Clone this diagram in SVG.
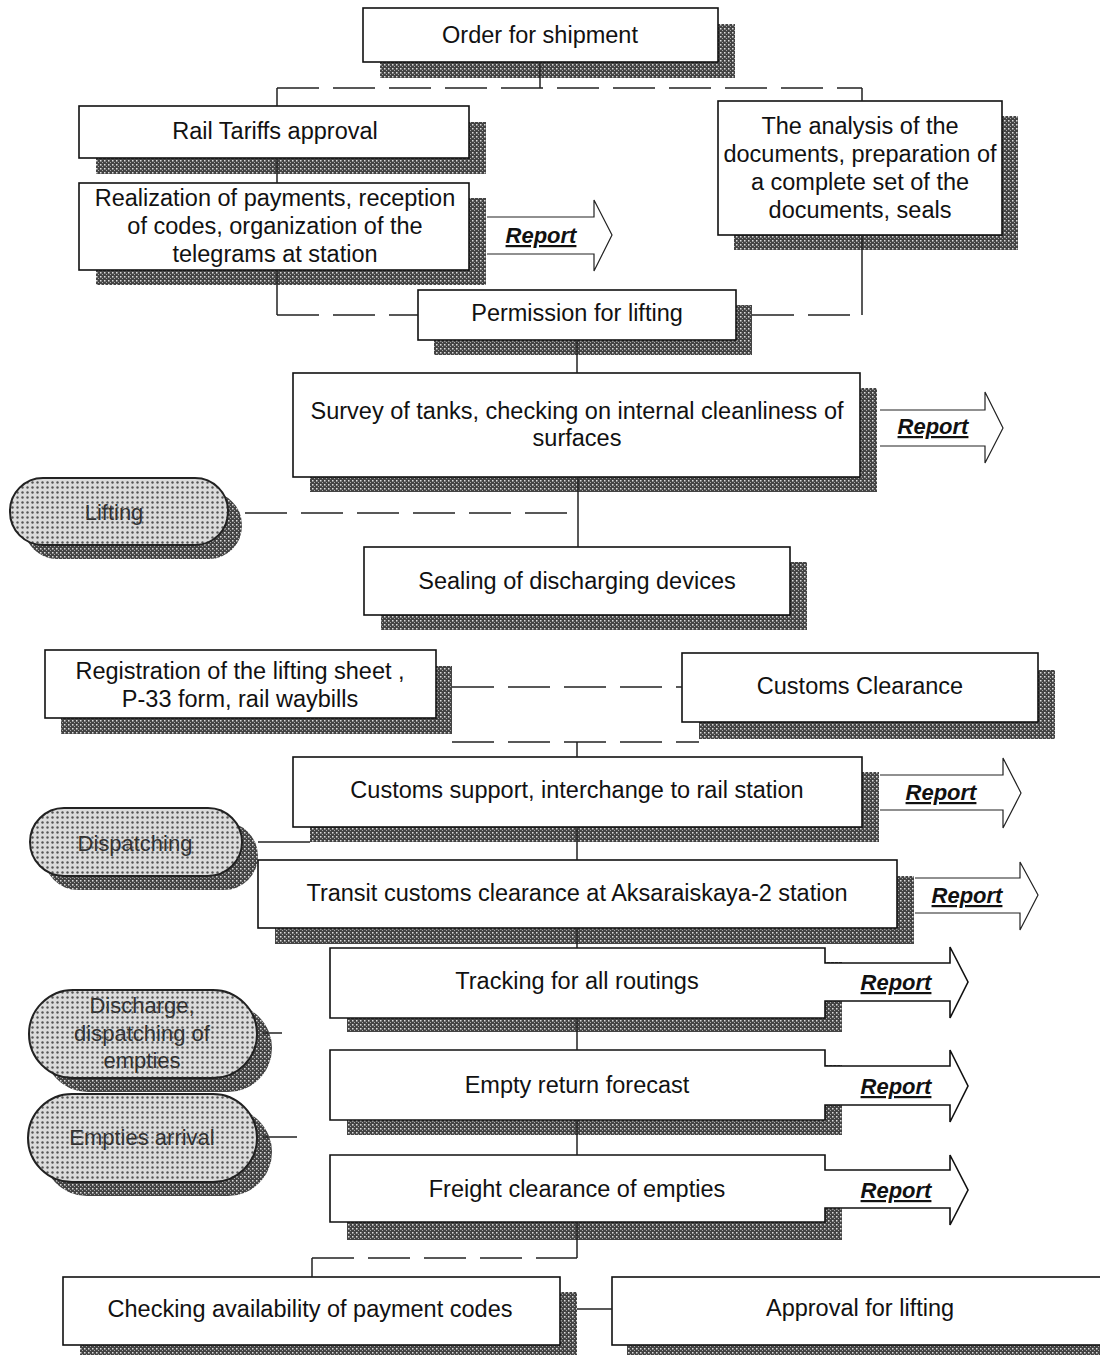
<svg xmlns="http://www.w3.org/2000/svg" width="1100" height="1355" viewBox="0 0 1100 1355">
<defs>
<pattern id="ht" width="4" height="4" patternUnits="userSpaceOnUse"><rect width="4" height="4" fill="#444"/><rect x="0" y="0" width="1.5" height="1.5" fill="#ddd"/><rect x="2" y="2" width="1" height="1" fill="#aaa"/></pattern>
<pattern id="dots" width="5" height="5" patternUnits="userSpaceOnUse"><rect width="5" height="5" fill="#dcdcdc"/><circle cx="2.5" cy="2.5" r="1.2" fill="#555"/></pattern>
</defs>
<style>
.box{fill:#fff;stroke:#111;stroke-width:1.6}
.sh{fill:url(#ht)}
.pill{fill:url(#dots);stroke:#222;stroke-width:2}
.arr{fill:none;stroke:#222;stroke-width:1.2}
.t{font-family:"Liberation Sans",Arial,sans-serif;font-size:23.5px;text-anchor:middle;fill:#111}
.pt{font-family:"Liberation Sans",Arial,sans-serif;font-size:22px;text-anchor:middle;fill:#333}
.rep{font-family:"Liberation Sans",Arial,sans-serif;font-size:22px;font-weight:bold;font-style:italic;text-decoration:underline;text-anchor:middle;fill:#111}
.c{fill:none;stroke:#222;stroke-width:1.5}
.d{stroke-dasharray:42 14}
</style>
<rect width="1100" height="1355" fill="#fff"/>

<g id="order">
<rect class="sh" x="380" y="24" width="355" height="54"/>
<rect class="box" x="363" y="8" width="355" height="54"/>
<text class="t" x="540" y="43">Order for shipment</text>
</g>
<g id="rail-tariffs">
<rect class="sh" x="96" y="122" width="390" height="52"/>
<rect class="box" x="79" y="106" width="390" height="52"/>
<text class="t" x="275" y="139">Rail Tariffs approval</text>
</g>
<g id="realization">
<rect class="sh" x="96" y="198" width="390" height="87"/>
<rect class="box" x="79" y="183" width="390" height="87"/>
<text class="t" x="275" y="206">Realization of payments, reception</text>
<text class="t" x="275" y="234">of codes, organization of the</text>
<text class="t" x="275" y="262">telegrams at station</text>
</g>
<g id="report1">
<path class="arr" d="M487,217 H594 V200 L612,235 L594,271 V254 H487"/>
<text class="rep" x="541" y="243">Report</text>
</g>
<g id="analysis">
<rect class="sh" x="734" y="116" width="284" height="134"/>
<rect class="box" x="718" y="101" width="284" height="134"/>
<text class="t" x="860" y="134">The analysis of the</text>
<text class="t" x="860" y="162">documents, preparation of</text>
<text class="t" x="860" y="190">a complete set of the</text>
<text class="t" x="860" y="218">documents, seals</text>
</g>
<g id="permission">
<rect class="sh" x="434" y="305" width="318" height="50"/>
<rect class="box" x="418" y="290" width="318" height="50"/>
<text class="t" x="577" y="321">Permission for lifting</text>
</g>
<g id="survey">
<rect class="sh" x="310" y="388" width="567" height="104"/>
<rect class="box" x="293" y="373" width="567" height="104"/>
<text class="t" x="577" y="419">Survey of tanks, checking on internal cleanliness of</text>
<text class="t" x="577" y="446">surfaces</text>
</g>
<g id="report2">
<path class="arr" d="M880,410 H985 V392 L1003,428 L985,463 V446 H880"/>
<text class="rep" x="933" y="434">Report</text>
</g>
<g id="lifting">
<rect class="sh" x="24" y="492" width="218" height="67" rx="33"/>
<rect class="pill" x="10" y="478" width="218" height="67" rx="33"/>
<text class="pt" x="114" y="520">Lifting</text>
</g>
<g id="sealing">
<rect class="sh" x="381" y="562" width="426" height="68"/>
<rect class="box" x="364" y="547" width="426" height="68"/>
<text class="t" x="577" y="589">Sealing of discharging devices</text>
</g>
<g id="registration">
<rect class="sh" x="61" y="666" width="391" height="68"/>
<rect class="box" x="45" y="650" width="391" height="68"/>
<text class="t" x="240" y="679">Registration of the lifting sheet ,</text>
<text class="t" x="240" y="707">P-33 form, rail waybills</text>
</g>
<g id="customs-clearance">
<rect class="sh" x="699" y="670" width="356" height="69"/>
<rect class="box" x="682" y="653" width="356" height="69"/>
<text class="t" x="860" y="694">Customs Clearance</text>
</g>
<g id="customs-support">
<rect class="sh" x="310" y="772" width="569" height="70"/>
<rect class="box" x="293" y="757" width="569" height="70"/>
<text class="t" x="577" y="798">Customs support, interchange to rail station</text>
</g>
<g id="report3">
<path class="arr" d="M880,775 H1003 V758 L1021,793 L1003,828 V810 H880"/>
<text class="rep" x="941" y="800">Report</text>
</g>
<g id="dispatching">
<rect class="sh" x="44" y="822" width="214" height="68" rx="34"/>
<rect class="pill" x="30" y="808" width="212" height="68" rx="34"/>
<text class="pt" x="135" y="851">Dispatching</text>
</g>
<g id="transit">
<rect class="sh" x="275" y="876" width="639" height="68"/>
<rect class="box" x="258" y="860" width="639" height="68"/>
<text class="t" x="577" y="901">Transit customs clearance at Aksaraiskaya-2 station</text>
</g>
<g id="report4">
<path class="arr" d="M915,878 H1020 V862 L1038,895 L1020,930 V913 H915"/>
<text class="rep" x="967" y="903">Report</text>
</g>
<g id="tracking">
<rect class="sh" x="347" y="962" width="495" height="70"/>
<path class="box" d="M330,948 H825 V963 H950 V947 L968,982 L950,1018 V1001 H825 V1018 H330 Z"/>
<text class="t" x="577" y="989">Tracking for all routings</text>
<text class="rep" x="896" y="990">Report</text>
</g>
<g id="discharge">
<rect class="sh" x="44" y="1004" width="228" height="88" rx="44"/>
<rect class="pill" x="29" y="990" width="228" height="88" rx="44"/>
<text class="pt" x="142" y="1013">Discharge,</text>
<text class="pt" x="142" y="1041">dispatching of</text>
<text class="pt" x="142" y="1068">empties</text>
</g>
<g id="empty-return">
<rect class="sh" x="347" y="1065" width="495" height="70"/>
<path class="box" d="M330,1050 H825 V1066 H950 V1050 L968,1086 L950,1122 V1105 H825 V1120 H330 Z"/>
<text class="t" x="577" y="1093">Empty return forecast</text>
<text class="rep" x="896" y="1094">Report</text>
</g>
<g id="empties-arrival">
<rect class="sh" x="43" y="1108" width="229" height="88" rx="44"/>
<rect class="pill" x="28" y="1094" width="229" height="88" rx="44"/>
<text class="pt" x="142" y="1145">Empties arrival</text>
</g>
<g id="freight">
<rect class="sh" x="347" y="1170" width="495" height="70"/>
<path class="box" d="M330,1155 H825 V1170 H950 V1155 L968,1190 L950,1225 V1208 H825 V1222 H330 Z"/>
<text class="t" x="577" y="1197">Freight clearance of empties</text>
<text class="rep" x="896" y="1198">Report</text>
</g>
<g id="checking">
<rect class="sh" x="80" y="1292" width="497" height="70"/>
<rect class="box" x="63" y="1277" width="497" height="68"/>
<text class="t" x="310" y="1317">Checking availability of payment codes</text>
</g>
<g id="approval">
<rect class="sh" x="627" y="1292" width="500" height="70"/>
<rect class="box" x="612" y="1277" width="500" height="68"/>
<text class="t" x="860" y="1316">Approval for lifting</text>
</g>

<g id="connectors">
<path class="c" d="M540,62 V88"/>
<path class="c d" d="M277,88 H862"/>
<path class="c" d="M277,88 V106 M862,88 V101"/>
<path class="c" d="M277,158 V183"/>
<path class="c" d="M277,270 V315"/>
<path class="c d" d="M277,315 H418"/>
<path class="c" d="M862,235 V315"/>
<path class="c d" d="M752,315 H862"/>
<path class="c" d="M577,340 V373"/>
<path class="c" d="M578,477 V547"/>
<path class="c d" d="M245,513 H578"/>
<path class="c d" d="M452,687 H682"/>
<path class="c d" d="M452,742 H699"/>
<path class="c" d="M577,742 V757"/>
<path class="c" d="M577,827 V860"/>
<path class="c" d="M258,842 H310"/>
<path class="c" d="M577,928 V948"/>
<path class="c" d="M577,1018 V1050"/>
<path class="c" d="M577,1120 V1155"/>
<path class="c" d="M263,1033 H282"/>
<path class="c" d="M263,1137 H297"/>
<path class="c" d="M577,1222 V1258"/>
<path class="c d" d="M312,1258 H577"/>
<path class="c" d="M312,1258 V1277"/>
<path class="c" d="M577,1309 H612"/>
</g>
</svg>
